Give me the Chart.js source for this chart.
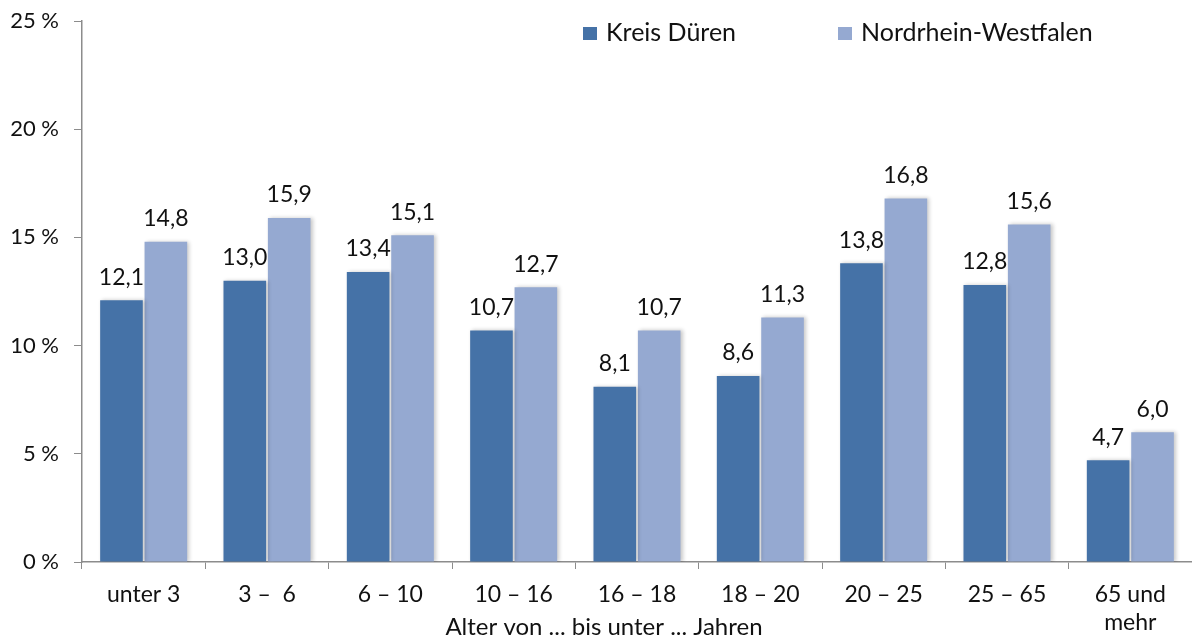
<!DOCTYPE html>
<html>
<head>
<meta charset="utf-8">
<script src="https://cdn.jsdelivr.net/npm/chart.js@4/dist/chart.umd.min.js"></script>
<style>
  html, body { margin: 0; padding: 0; background: #fff; }
  #wrap { width: 1192px; height: 640px; }
</style>
</head>
<body>
<div id="wrap"><canvas id="chart" width="1192" height="640"></canvas></div>
<script>
// data
const categories = ['unter 3', '3 –  6', '6 – 10', '10 – 16', '16 – 18', '18 – 20', '20 – 25', '25 – 65', ['65 und', 'mehr']];
const kreisDueren = [12.1, 13.0, 13.4, 10.7, 8.1, 8.6, 13.8, 12.8, 4.7];
const nrw = [14.8, 15.9, 15.1, 12.7, 10.7, 11.3, 16.8, 15.6, 6.0];
const seriesNames = ['Kreis Düren', 'Nordrhein-Westfalen'];
const yTicks = [0, 5, 10, 15, 20, 25];
const axisTitle = 'Alter von ... bis unter ... Jahren';

const FONT = 'Lato, "Open Sans", sans-serif';
const TEXT = '#111';
const AXIS = '#8c8c8c';
const DARK = '#4572a7';
const LIGHT = '#95a9d1';

// small shadow right of the bars, like the office export
const barShadow = {
  id: 'barShadow',
  beforeDatasetsDraw(chart) {
    const ctx = chart.ctx;
    ctx.save();
    ctx.shadowColor = 'rgba(0,0,0,0.22)';
    ctx.shadowBlur = 4;
    ctx.shadowOffsetX = 2;
    ctx.shadowOffsetY = 0;
  },
  afterDatasetsDraw(chart) {
    chart.ctx.restore();
  }
};

const valueLabels = {
  id: 'valueLabels',
  afterDatasetsDraw(chart) {
    const ctx = chart.ctx;
    ctx.save();
    ctx.font = '23px ' + FONT;
    ctx.fillStyle = TEXT;
    ctx.textAlign = 'center';
    ctx.textBaseline = 'middle';
    chart.data.datasets.forEach((ds, i) => {
      chart.getDatasetMeta(i).data.forEach((bar, j) => {
        const txt = ds.data[j].toFixed(1).replace('.', ',');
        ctx.fillText(txt, bar.x, bar.y - 23);
      });
    });
    ctx.restore();
  }
};

// legend sits inside the plot, top right
const legendX = [583, 838];
const topLegend = {
  id: 'topLegend',
  afterDraw(chart) {
    const ctx = chart.ctx;
    ctx.save();
    ctx.font = '25px ' + FONT;
    ctx.textBaseline = 'middle';
    chart.data.datasets.forEach((ds, i) => {
      const x = legendX[i];
      ctx.fillStyle = ds.backgroundColor;
      ctx.fillRect(x, 27, 14, 13);
      ctx.fillStyle = TEXT;
      ctx.fillText(ds.label, x + 23, 33);
    });
    ctx.restore();
  }
};

// axis title is centred on the whole picture, not on the plot
const xTitle = {
  id: 'xTitle',
  afterDraw(chart) {
    const ctx = chart.ctx;
    ctx.save();
    ctx.font = '24px ' + FONT;
    ctx.fillStyle = TEXT;
    ctx.textAlign = 'center';
    ctx.textBaseline = 'middle';
    ctx.fillText(axisTitle, 604, 627);
    ctx.restore();
  }
};

new Chart(document.getElementById('chart'), {
  type: 'bar',
  data: {
    labels: categories,
    datasets: [
      { label: seriesNames[0], data: kreisDueren, backgroundColor: DARK },
      { label: seriesNames[1], data: nrw, backgroundColor: LIGHT }
    ]
  },
  options: {
    responsive: false,
    animation: false,
    layout: { padding: { top: 21, right: 0, left: 0, bottom: 0 } },
    datasets: {
      bar: { categoryPercentage: 0.72, barPercentage: 0.96 }
    },
    plugins: {
      legend: { display: false },
      tooltip: { enabled: false }
    },
    scales: {
      x: {
        grid: {
          offset: true,
          drawOnChartArea: false,
          color: AXIS,
          tickLength: 7,
          tickColor: AXIS
        },
        border: { color: AXIS, width: 1.5 },
        ticks: {
          color: TEXT,
          font: { family: FONT, size: 23 },
          padding: 12,
          maxRotation: 0,
          autoSkip: false
        },
        afterFit(scale) { scale.height = 78; }
      },
      y: {
        min: 0,
        max: 25,
        afterBuildTicks(scale) { scale.ticks = yTicks.map(v => ({ value: v })); },
        grid: {
          drawOnChartArea: false,
          color: AXIS,
          tickLength: 8,
          tickColor: AXIS
        },
        border: { color: AXIS, width: 1.5 },
        ticks: {
          color: TEXT,
          font: { family: FONT, size: 22 },
          padding: 15,
          callback: v => v + ' %'
        },
        afterFit(scale) {
          scale.width = 82;
          scale.paddingTop = 0;
          scale.paddingBottom = 0;
        }
      }
    }
  },
  plugins: [barShadow, valueLabels, topLegend, xTitle]
});
</script>
</body>
</html>
